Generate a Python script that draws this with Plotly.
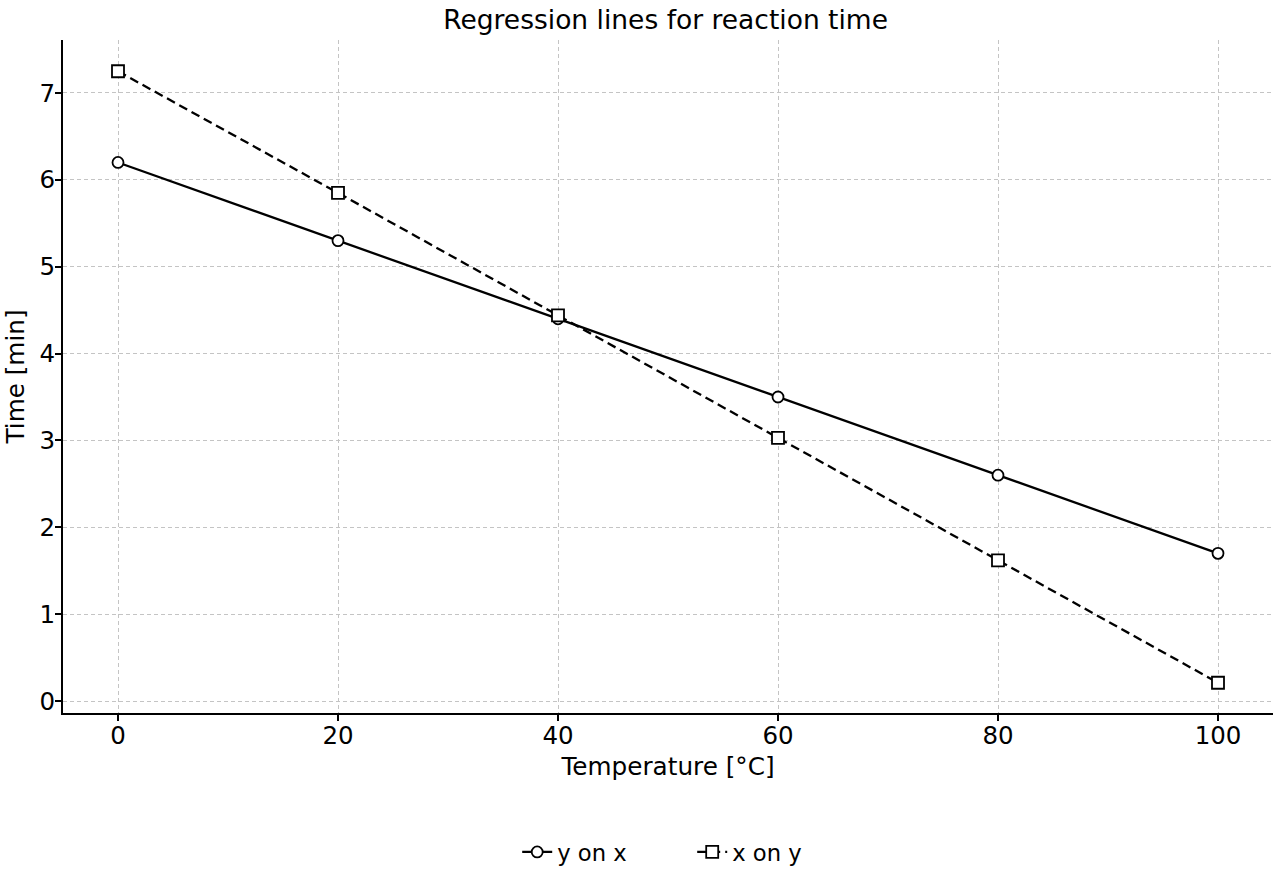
import plotly.graph_objects as go

temperature = [0, 20, 40, 60, 80, 100]
y_on_x = [6.2, 5.3, 4.4, 3.5, 2.6, 1.7]
x_on_y = [7.25, 5.85, 4.44, 3.03, 1.62, 0.21]

fig = go.Figure()
fig.add_trace(go.Scatter(
    x=temperature, y=y_on_x, name="y on x", mode="lines+markers",
    line=dict(color="black", width=2.3),
    marker=dict(symbol="circle", size=11, color="white", line=dict(color="black", width=1.8)),
))
fig.add_trace(go.Scatter(
    x=temperature, y=x_on_y, name="x on y", mode="lines+markers",
    line=dict(color="black", width=2.3, dash="9px,5px"),
    marker=dict(symbol="square", size=12, color="white", line=dict(color="black", width=1.8)),
))

axis_common = dict(
    showline=True, linecolor="black", linewidth=2,
    ticks="outside", ticklen=6, tickwidth=1.5, tickcolor="black",
    showgrid=True, gridcolor="#c4c4c4", griddash="4px,3px", gridwidth=0.9,
    zeroline=False, tickfont=dict(size=24.5, color="black"),
)

fig.update_layout(
    width=1280, height=880,
    margin=dict(l=63, r=7, t=40, b=166),
    paper_bgcolor="white", plot_bgcolor="white",
    font=dict(family="DejaVu Sans", color="black"),
    title=dict(text="Regression lines for reaction time", x=0.52, xanchor="center",
               y=0.978, yanchor="middle", font=dict(size=26.5)),
    xaxis=dict(axis_common, range=[-5, 105], tickvals=[0, 20, 40, 60, 80, 100],
               ticklabelstandoff=-6,
               title=dict(text="Temperature [°C]", font=dict(size=24.7), standoff=8)),
    yaxis=dict(axis_common, range=[-0.138, 7.61], tickvals=[0, 1, 2, 3, 4, 5, 6, 7],
               ticklabelstandoff=-5,
               title=dict(text="Time [min]", font=dict(size=24.7), standoff=8)),
    legend=dict(orientation="h", x=0.52, xanchor="center", y=-0.205, yanchor="middle",
                font=dict(size=22.7), entrywidth=130, entrywidthmode="pixels", tracegroupgap=0),
    showlegend=True,
)

fig.write_html("out.html")
